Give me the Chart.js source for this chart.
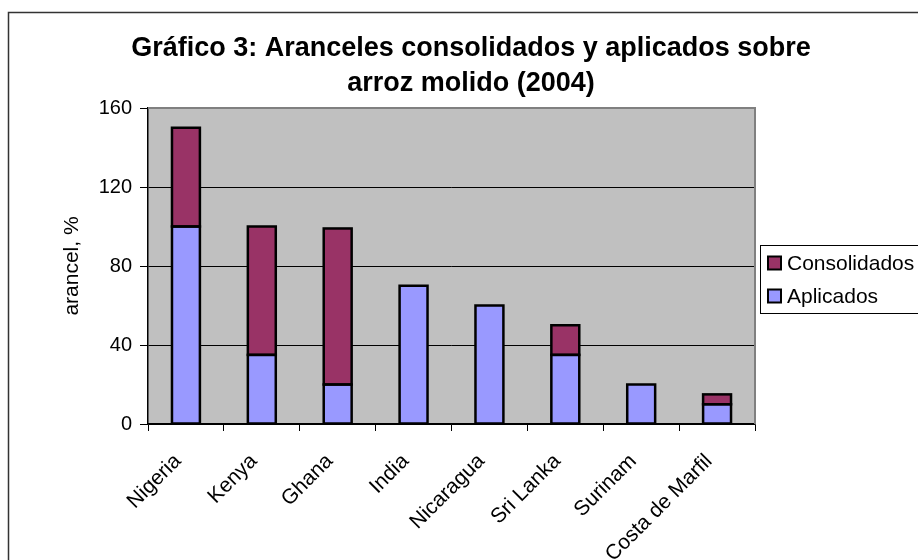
<!DOCTYPE html>
<html lang="es">
<head>
    <meta charset="UTF-8">
    <title>Gráfico 3</title>
    <style>
        body {
            margin: 0;
            background-color: #ffffff;
        }
        .chart-box {
            width: 918px;
            height: 560px;
        }
    </style>
</head>
<body>
    <div class="chart-box">
        <canvas id="barChart" width="918" height="560"></canvas>
    </div>

    <script src="https://cdn.jsdelivr.net/npm/chart.js"></script>
    <script>
        // Data
        const paises = ['Nigeria', 'Kenya', 'Ghana', 'India', 'Nicaragua', 'Sri Lanka', 'Surinam', 'Costa de Marfil'];
        const aplicados = [100, 35, 20, 70, 60, 35, 20, 10];
        // part of the bound rate above the applied rate
        const consolidados = [50, 65, 79, null, null, 15, null, 5];
        const yTicks = [0, 40, 80, 120, 160];

        const FONT = "'Liberation Sans', Arial, sans-serif";

        // Excel style frame, grey plot area, bar outlines, titles, x labels and legend
        const excelLook = {
            id: 'excelLook',
            beforeDraw(chart) {
                const ctx = chart.ctx;
                const a = chart.chartArea;
                ctx.save();
                ctx.fillStyle = '#ffffff';
                ctx.fillRect(0, 0, chart.width, chart.height);
                ctx.strokeStyle = '#333333';
                ctx.lineWidth = 1.5;
                ctx.strokeRect(8.5, 12.5, chart.width + 20, chart.height + 20);
                ctx.fillStyle = '#c0c0c0';
                ctx.fillRect(a.left, a.top, a.right - a.left, a.bottom - a.top);
                ctx.restore();
            },
            afterDatasetsDraw(chart) {
                const ctx = chart.ctx;
                ctx.save();
                ctx.strokeStyle = '#000000';
                ctx.lineWidth = 2.5;
                chart.data.datasets.forEach((ds, d) => {
                    const meta = chart.getDatasetMeta(d);
                    meta.data.forEach((bar, i) => {
                        if (ds.data[i] == null) return;
                        const top = Math.min(bar.y, bar.base);
                        ctx.strokeRect(bar.x - bar.width / 2, top, bar.width, Math.abs(bar.base - bar.y));
                    });
                });
                ctx.restore();
            },
            afterDraw(chart) {
                const ctx = chart.ctx;
                const a = chart.chartArea;
                const xs = chart.scales.x;
                ctx.save();
                // grey top/right edge of plot area
                ctx.strokeStyle = '#808080';
                ctx.lineWidth = 2;
                ctx.beginPath();
                ctx.moveTo(a.left, a.top);
                ctx.lineTo(a.right, a.top);
                ctx.lineTo(a.right, a.bottom);
                ctx.stroke();

                // title
                ctx.fillStyle = '#000000';
                ctx.font = 'bold 27px ' + FONT;
                ctx.textAlign = 'center';
                ctx.textBaseline = 'alphabetic';
                ctx.fillText('Gráfico 3: Aranceles consolidados y aplicados sobre', 471, 56);
                ctx.fillText('arroz molido (2004)', 471, 91);

                // y axis title
                ctx.font = '21px ' + FONT;
                ctx.translate(72, 266);
                ctx.rotate(-Math.PI / 2);
                ctx.textBaseline = 'middle';
                ctx.fillText('arancel, %', 0, 0);
                ctx.setTransform(1, 0, 0, 1, 0, 0);

                // rotated category labels
                ctx.font = '21px ' + FONT;
                ctx.textAlign = 'right';
                ctx.textBaseline = 'middle';
                paises.forEach((p, i) => {
                    const x = xs.getPixelForValue(i);
                    ctx.setTransform(1, 0, 0, 1, x - 8, a.bottom + 34);
                    ctx.rotate(-Math.PI / 4);
                    ctx.fillText(p, 0, 0);
                });
                ctx.setTransform(1, 0, 0, 1, 0, 0);

                // legend
                ctx.strokeStyle = '#000000';
                ctx.lineWidth = 1;
                ctx.fillStyle = '#ffffff';
                ctx.fillRect(760.5, 245.5, 200, 68);
                ctx.strokeRect(760.5, 245.5, 200, 68);
                const items = [
                    { label: 'Consolidados', color: chart.data.datasets[1].backgroundColor, y: 263 },
                    { label: 'Aplicados', color: chart.data.datasets[0].backgroundColor, y: 296 }
                ];
                ctx.font = '21px ' + FONT;
                ctx.textAlign = 'left';
                ctx.textBaseline = 'middle';
                items.forEach(it => {
                    ctx.fillStyle = it.color;
                    ctx.fillRect(768, it.y - 6.5, 13, 13);
                    ctx.lineWidth = 2;
                    ctx.strokeRect(768, it.y - 6.5, 13, 13);
                    ctx.fillStyle = '#000000';
                    ctx.fillText(it.label, 787, it.y + 1);
                });
                ctx.restore();
            }
        };

        const barChart = new Chart(document.getElementById('barChart'), {
            type: 'bar',
            data: {
                labels: paises,
                datasets: [
                    {
                        label: 'Aplicados',
                        data: aplicados,
                        backgroundColor: '#9999ff',
                        borderWidth: 0
                    },
                    {
                        label: 'Consolidados',
                        data: consolidados,
                        backgroundColor: '#993366',
                        borderWidth: 0
                    }
                ]
            },
            options: {
                responsive: false,
                animation: false,
                layout: {
                    padding: { left: 0, top: 108, right: 163, bottom: 0 }
                },
                datasets: {
                    bar: { categoryPercentage: 0.8, barPercentage: 0.46 }
                },
                plugins: {
                    legend: { display: false },
                    title: { display: false },
                    tooltip: { enabled: false }
                },
                scales: {
                    x: {
                        stacked: true,
                        afterFit: s => { s.height = 136; },
                        grid: {
                            offset: true,
                            drawOnChartArea: false,
                            color: '#000000',
                            tickLength: 7
                        },
                        border: { color: '#000000', width: 1.5 },
                        ticks: { display: false }
                    },
                    y: {
                        stacked: true,
                        min: 0,
                        max: 160,
                        afterFit: s => { s.width = 148; },
                        afterBuildTicks: s => { s.ticks = yTicks.map(v => ({ value: v })); },
                        grid: {
                            color: '#000000',
                            tickLength: 8
                        },
                        border: { color: '#000000', width: 1.5 },
                        ticks: {
                            color: '#000000',
                            font: { family: FONT, size: 20 },
                            padding: 8
                        }
                    }
                }
            },
            plugins: [excelLook]
        });
    </script>
</body>
</html>
